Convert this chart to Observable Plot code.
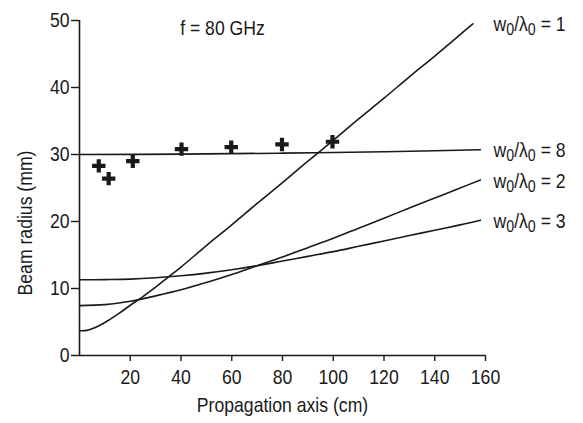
<!DOCTYPE html>
<html><head><meta charset="utf-8">
<script src="https://cdn.jsdelivr.net/npm/d3@7"></script>
<script src="https://cdn.jsdelivr.net/npm/@observablehq/plot@0.6"></script>
<style>
body{margin:0;background:#fff;}
</style>
</head><body><div id="chart"></div>
<script>
// Propagation distance (cm) and beam radius (mm)
const seriesNames = ["w0/λ0 = 1", "w0/λ0 = 8", "w0/λ0 = 2", "w0/λ0 = 3"];
const zW1 = [0,3,6,9,12,16,20,25,30,35,40,50,60,70,80,90,100,110,120,130,140,150,155];
const rW1 = [3.7,3.75,4.15,4.7,5.4,6.4,7.5,8.8,10.2,11.7,13.2,16.4,19.5,22.7,25.8,29.0,32.1,35.3,38.4,41.6,44.7,47.9,49.5];
const zW8 = [0,40,80,120,158];
const rW8 = [30.0,30.05,30.2,30.4,30.7];
const zW2 = [0,10,20,30,40,50,60,70,80,90,100,110,120,130,140,150,158];
const rW2 = [7.45,7.6,8.1,8.9,9.8,10.9,12.1,13.4,14.7,16.1,17.5,19.0,20.5,22.0,23.5,25.0,26.2];
const zW3 = [0,10,20,30,40,50,60,70,80,90,100,110,120,130,140,150,158];
const rW3 = [11.3,11.33,11.4,11.6,11.9,12.3,12.8,13.4,14.1,14.8,15.5,16.3,17.1,17.9,18.7,19.5,20.2];
// measured points (crosses)
const measZ = [7.6,11.5,21,40.2,59.8,79.8,99.7];
const measR = [28.3,26.4,29.0,30.8,31.1,31.5,31.9];
const xTicks = [20,40,60,80,100,120,140,160];
const yTicks = [0,10,20,30,40,50];
const title = "f = 80 GHz";
const xLabel = "Propagation axis (cm)";
const yLabel = "Beam radius (mm)";

const zs = [zW1, zW8, zW2, zW3];
const rs = [rW1, rW8, rW2, rW3];
const curves = [];
seriesNames.forEach((name, i) => zs[i].forEach((z, j) => curves.push({series: name, z, r: rs[i][j]})));
const ends = seriesNames.map((name, i) => ({series: name, r: rs[i][rs[i].length - 1]}));
const meas = measZ.map((z, i) => ({z, r: measR[i]}));

const font = '"Liberation Sans",Arial,sans-serif';
const ink = "#1a1a1a";
const fs = 20.5;

const chart = Plot.plot({
  width: 583, height: 423,
  marginLeft: 79, marginRight: 98, marginTop: 20, marginBottom: 68,
  style: {fontFamily: font, fontSize: fs + "px", background: "white", color: ink, overflow: "visible"},
  x: {domain: [0, 160]},
  y: {domain: [0, 50]},
  marks: [
    Plot.ruleY([0], {stroke: ink, strokeWidth: 1.6}),
    Plot.ruleX([0], {stroke: ink, strokeWidth: 1.6}),
    Plot.axisX({ticks: xTicks, tickSize: 6, tickPadding: 8, label: null, strokeWidth: 1.4, fontSize: fs}),
    Plot.axisY({ticks: yTicks, tickSize: 8, tickPadding: 2, label: null, strokeWidth: 1.4, fontSize: fs}),
    Plot.line(curves, {x: "z", y: "r", z: "series", curve: "catmull-rom", stroke: ink, strokeWidth: 1.6}),
    Plot.dot(meas, {x: "z", y: "r", symbol: "plus", r: 4.4, stroke: ink, strokeWidth: 4.2, fill: "none"}),
    Plot.text(ends, {x: () => 160, y: "r", text: "series", textAnchor: "start", dx: 8, dy: 1, fill: ink, fontSize: fs}),
    Plot.text([title], {frameAnchor: "top-left", dx: 143, dy: 8, textAnchor: "middle", lineAnchor: "middle", fill: ink, fontSize: fs, letterSpacing: 0.6}),
    Plot.text([xLabel], {frameAnchor: "bottom", dy: 50, textAnchor: "middle", lineAnchor: "middle", fill: ink, fontSize: fs}),
    Plot.text([yLabel], {frameAnchor: "left", rotate: -90, dx: -54, dy: 35, textAnchor: "middle", lineAnchor: "middle", fill: ink, fontSize: fs})
  ]
});
document.getElementById("chart").appendChild(chart);

const NS = "http://www.w3.org/2000/svg";
// turn the 0 after w and λ into real subscripts
chart.querySelectorAll("text").forEach(t => {
  const s = t.textContent;
  if (!s.startsWith("w0/λ0")) return;
  const rest = s.slice(5);
  t.textContent = "";
  const parts = [["w", 0], ["0", 1], ["/λ", 0], ["0", 1], [rest, 0]];
  let down = false;
  for (const [txt, sub] of parts) {
    const ts = document.createElementNS(NS, "tspan");
    ts.textContent = txt;
    if (sub) { ts.setAttribute("font-size", "16.5"); ts.setAttribute("dy", "4"); down = true; }
    else if (down) { ts.setAttribute("dy", "-4"); down = false; }
    t.appendChild(ts);
  }
});
// condense all text horizontally around its anchor (the original uses a narrow face)
chart.querySelectorAll("text").forEach(t => {
  let x = parseFloat(t.getAttribute("x"));
  const xa = t.getAttribute("x") || "";
  if (!isFinite(x) || /em/.test(xa)) x = 0;
  const tr = t.getAttribute("transform") || "";
  t.setAttribute("transform", (tr + ` translate(${x},0) scale(0.86,1) translate(${-x},0)`).trim());
});
</script>
</body></html>
